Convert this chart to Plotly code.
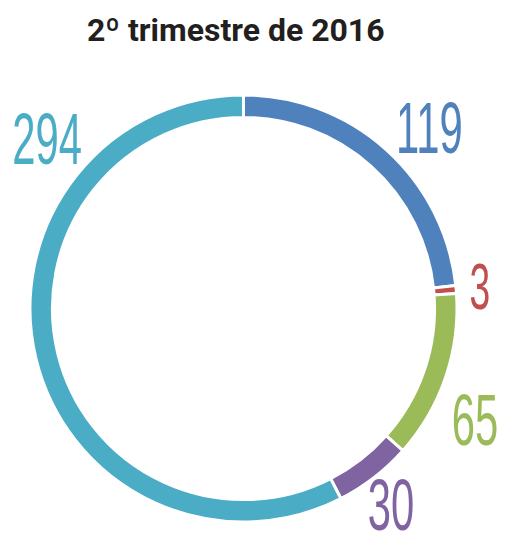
import plotly.graph_objects as go

W, H = 506, 534

categories = ["A", "B", "C", "D", "E"]
values = [119, 3, 65, 30, 294]
colors = ["#4f81bd", "#c0504d", "#9bbb59", "#8064a2", "#4bacc6"]
title_text = "2º trimestre de 2016"

# label anchor positions in pixels (layout only)
label_px = [(429, 128), (480, 287), (475, 420), (391, 505), (47, 139)]
label_size = [72, 64, 72, 72, 72]

fig = go.Figure(go.Pie(
    labels=categories,
    values=values,
    sort=False,
    direction="clockwise",
    rotation=0,
    hole=0.895,
    marker=dict(colors=colors, line=dict(color="white", width=3)),
    textinfo="none",
    hoverinfo="none",
    showlegend=False,
    domain=dict(x=[30 / W, 457 / W], y=[1 - 522 / H, 1 - 95 / H]),
))

for v, c, (px, py), s in zip(values, colors, label_px, label_size):
    fig.add_annotation(
        x=px / W, y=1 - py / H, xref="paper", yref="paper",
        text=str(v), showarrow=False,
        font=dict(family="Liberation Sans", size=s, color=c),
        xanchor="center", yanchor="middle",
    )

fig.add_annotation(
    x=235.5 / W, y=1 - 30 / H, xref="paper", yref="paper",
    text="<b>" + title_text + "</b>", showarrow=False,
    font=dict(family="Roboto", size=32, color="#231f20"),
    xanchor="center", yanchor="middle",
)

fig.update_layout(
    width=W, height=H,
    margin=dict(l=0, r=0, t=0, b=0),
    paper_bgcolor="white", plot_bgcolor="white",
)

post = """
document.body.style.margin='0';
var ts = document.querySelectorAll('text.annotation-text');
ts.forEach(function(t){
  if (/^[0-9]+$/.test(t.textContent.trim())) {
    t.style.transformBox = 'fill-box';
    t.style.transformOrigin = 'center';
    t.style.transform = 'scaleX(0.58)';
  }
});
"""

fig.write_html("out.html", post_script=post, config={"displayModeBar": False})
